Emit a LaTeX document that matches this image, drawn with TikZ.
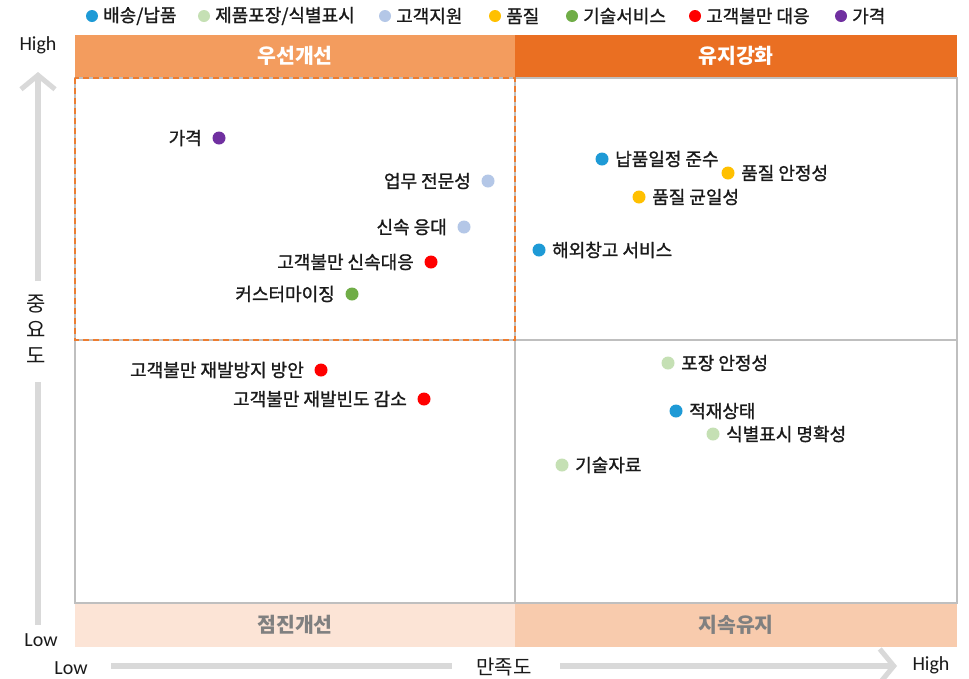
\documentclass[tikz,border=0pt]{standalone}
\usepackage{fontspec}
\setmainfont{Noto Sans CJK KR}
\newfontfamily\lblfont[FakeBold=1.2]{Noto Sans CJK KR}
\newfontfamily\latinfont{Carlito}
\usetikzlibrary{arrows.meta}
\definecolor{cblue}{HTML}{1E9AD6}
\definecolor{cpack}{HTML}{C5E0B4}
\definecolor{csupp}{HTML}{B4C7E7}
\definecolor{cqual}{HTML}{FFC000}
\definecolor{ctech}{HTML}{70AD47}
\definecolor{cred}{HTML}{FF0000}
\definecolor{cprice}{HTML}{7030A0}
\definecolor{hdrTL}{HTML}{F39C5E}
\definecolor{hdrTR}{HTML}{EA6F22}
\definecolor{hdrBL}{HTML}{FCE4D6}
\definecolor{hdrBR}{HTML}{F8CBAD}
\definecolor{gridgray}{HTML}{BFBFBF}
\definecolor{axisgray}{HTML}{D9D9D9}
\definecolor{dashor}{HTML}{ED7D31}
\definecolor{txtgray}{HTML}{808080}
\definecolor{txtdark}{HTML}{1A1A1A}
\begin{document}
\begin{tikzpicture}[x=1pt,y=-1pt,
  ptdot/.style={circle, inner sep=0pt, minimum size=13pt, fill=#1, draw=none},
  legdot/.style={circle, inner sep=0pt, minimum size=12pt, fill=#1, draw=none},
  lblR/.style={anchor=west, inner sep=0pt, text=txtdark, font=\lblfont\fontsize{18}{20}\selectfont},
  lblL/.style={anchor=east, inner sep=0pt, text=txtdark, font=\lblfont\fontsize{18}{20}\selectfont},
  legtxt/.style={anchor=west, inner sep=0pt, text=txtdark, font=\lblfont\fontsize{18}{20}\selectfont},
  hdrtxt/.style={inner sep=0pt, font=\bfseries\fontsize{20.5}{22}\selectfont},
  axlat/.style={inner sep=0pt, text=txtdark, font=\latinfont\fontsize{20}{22}\selectfont},
  axline/.style={draw=axisgray, line width=6pt},
  axarrow/.style={axline, -{Straight Barb[length=14pt,width=34pt,line width=5pt]}}
]
\useasboundingbox (0,0) rectangle (969,678);
\fill[white] (0,0) rectangle (969,678);

% header bands
\fill[hdrTL] (75,35) rectangle (515,78);
\fill[hdrTR] (515,35) rectangle (957,78);
\fill[hdrBL] (75,603) rectangle (515,647);
\fill[hdrBR] (515,603) rectangle (957,647);
\node[hdrtxt, text=white] (hTL) at (295,56) {우선개선};
\node[hdrtxt, text=white] (hTR) at (736,56) {유지강화};
\node[hdrtxt, text=txtgray] (hBL) at (295,625) {점진개선};
\node[hdrtxt, text=txtgray] (hBR) at (736,625) {지속유지};

% grid
\draw[gridgray, line width=1.3pt] (75,78) rectangle (957,603);
\draw[gridgray, line width=1.3pt] (515,78) -- (515,603);
\draw[gridgray, line width=1.3pt] (75,340) -- (958,340);
\draw[dashor, line width=1.2pt, dash pattern=on 6pt off 4pt] (75,78) rectangle (515,340);

% legend
\node[legdot=cblue] (g1) at (92,16) {};
\node[legtxt] (gt1) at (103,16) {배송/납품};
\node[legdot=cpack] (g2) at (204,16) {};
\node[legtxt] (gt2) at (215,16) {제품포장/식별표시};
\node[legdot=csupp] (g3) at (385,16) {};
\node[legtxt] (gt3) at (396,16) {고객지원};
\node[legdot=cqual] (g4) at (495,16) {};
\node[legtxt] (gt4) at (506,16) {품질};
\node[legdot=ctech] (g5) at (572,16) {};
\node[legtxt] (gt5) at (583,16) {기술서비스};
\node[legdot=cred] (g6) at (695,16) {};
\node[legtxt] (gt6) at (706,16) {고객불만 대응};
\node[legdot=cprice] (g7) at (841,16) {};
\node[legtxt] (gt7) at (852,16) {가격};

% data points - left labels
\node[ptdot=cprice] (p1) at (219,138) {};
\node[lblL] (l1) at ([xshift=-17pt]p1.center) {가격};
\node[ptdot=csupp] (p2) at (488,181) {};
\node[lblL] (l2) at ([xshift=-17pt]p2.center) {업무 전문성};
\node[ptdot=csupp] (p3) at (464,227) {};
\node[lblL] (l3) at ([xshift=-17pt]p3.center) {신속 응대};
\node[ptdot=cred] (p4) at (431,262) {};
\node[lblL] (l4) at ([xshift=-17pt]p4.center) {고객불만 신속대응};
\node[ptdot=ctech] (p5) at (352,294) {};
\node[lblL] (l5) at ([xshift=-17pt]p5.center) {커스터마이징};
\node[ptdot=cred] (p6) at (321,370) {};
\node[lblL] (l6) at ([xshift=-17pt]p6.center) {고객불만 재발방지 방안};
\node[ptdot=cred] (p7) at (424,399) {};
\node[lblL] (l7) at ([xshift=-17pt]p7.center) {고객불만 재발빈도 감소};

% data points - right labels
\node[ptdot=cblue] (q1) at (602,159) {};
\node[lblR] (r1) at ([xshift=13pt]q1.center) {납품일정 준수};
\node[ptdot=cqual] (q2) at (728,173) {};
\node[lblR] (r2) at ([xshift=13pt]q2.center) {품질 안정성};
\node[ptdot=cqual] (q3) at (639,197) {};
\node[lblR] (r3) at ([xshift=13pt]q3.center) {품질 균일성};
\node[ptdot=cblue] (q4) at (539,250) {};
\node[lblR] (r4) at ([xshift=13pt]q4.center) {해외창고 서비스};
\node[ptdot=cpack] (q5) at (668,363) {};
\node[lblR] (r5) at ([xshift=13pt]q5.center) {포장 안정성};
\node[ptdot=cblue] (q6) at (676,411) {};
\node[lblR] (r6) at ([xshift=13pt]q6.center) {적재상태};
\node[ptdot=cpack] (q7) at (713,434) {};
\node[lblR] (r7) at ([xshift=13pt]q7.center) {식별표시 명확성};
\node[ptdot=cpack] (q8) at (562,465) {};
\node[lblR] (r8) at ([xshift=13pt]q8.center) {기술자료};

% vertical axis
\coordinate (vtop) at (38,72);
\coordinate (vm1) at (38,281);
\coordinate (vm2) at (38,382);
\coordinate (vbot) at (38,625);
\draw[axarrow] (vm1) -- (vtop);
\draw[axline] (vm2) -- (vbot);
\node[axlat] (vhigh) at (38,45) {High};
\node[axlat] (vlow) at (41,640) {Low};
\node[inner sep=0pt, text=txtdark, align=center, font=\fontsize{21}{26}\selectfont] (vtitle) at (36,329) {중\\요\\도};

% horizontal axis
\coordinate (hL) at (111,666);
\coordinate (hm1) at (452,666);
\coordinate (hm2) at (560,666);
\coordinate (hR) at (897,666);
\draw[axline] (hL) -- (hm1);
\draw[axarrow] (hm2) -- (hR);
\node[axlat] (hlow) at (71,668) {Low};
\node[axlat] (hhigh) at (931,665) {High};
\node[inner sep=0pt, text=txtdark, font=\fontsize{20}{22}\selectfont] (htitle) at (504,667) {만족도};
\end{tikzpicture}
\end{document}
